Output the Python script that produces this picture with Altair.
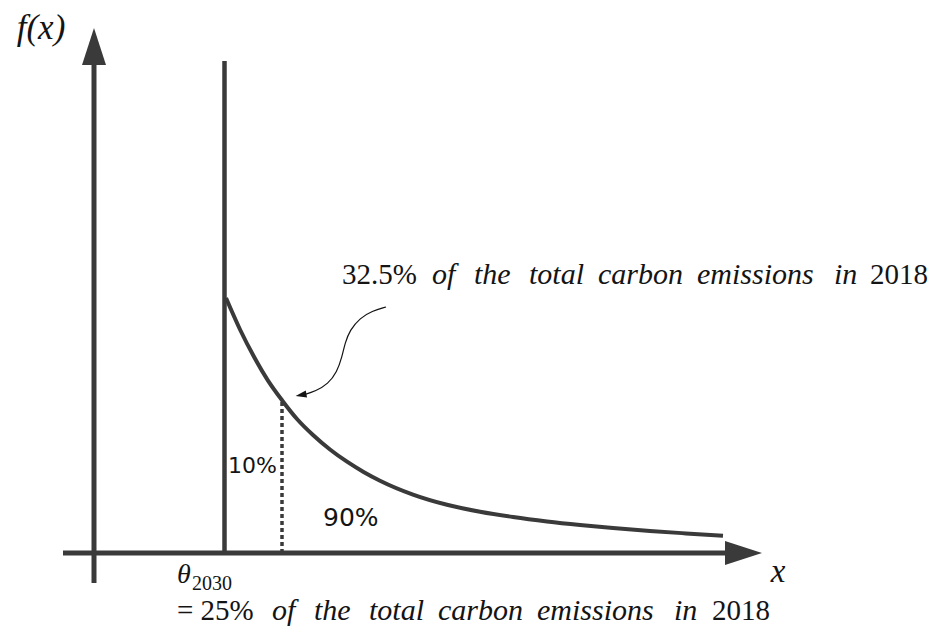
import altair as alt
import pandas as pd

# Schematic coordinate system: origin where the two axes cross (units ~ pixels)
X_DOMAIN = [-86, 834]
Y_DOMAIN = [-73, 545]

# Decreasing density curve f(x) starting at theta_2030
curve_x = [132, 146, 160, 174, 188, 203, 219, 236, 253, 270, 286, 319, 353, 386,
           419, 453, 486, 519, 556, 592, 629]
curve_y = [255, 223.5, 196.2, 172.4, 152.8, 134, 118, 103.5, 91.3, 80.8, 72.3, 58.4,
           48.2, 41.3, 36, 31.6, 28.1, 25.1, 22.1, 19.6, 17.2]

# Key positions
theta_x = 130.5          # theta_2030 (vertical line)
theta_top = 492
split_x = 188            # 10% / 90% split (dotted line)
split_y = 152.8

# Axes
y_axis_bottom, y_axis_top, y_tip = -30, 488, 525
x_axis_left, x_axis_right, x_tip = -31, 631, 668
head_half = 12

# Curved pointer from the label to the curve
ptr_x = [292, 278, 266, 256, 251, 248, 243, 234, 222, 209]
ptr_y = [246, 242, 235, 223, 210, 196, 181, 169, 162, 158]
ptr_head = (207, 158)

# Labels
words = ["of", "the", "total", "carbon", "emissions", "in"]
word_offsets = [0, 42, 97, 166, 265, 402]
top_line_x, top_line_y = 338, 269
bottom_line_x, bottom_line_y = 178, -67

upright_text = ["= 25%", "2018", "32.5%", "2018"]
upright_x = [83, 618, 248, 776]
upright_y = [-67, -67, 269, 269]

LINE = "#3a3a3a"
INK = "#141414"
SERIF = "Liberation Serif"


def X(field="x"):
    return alt.X(field, type="quantitative",
                 scale=alt.Scale(domain=X_DOMAIN, nice=False, zero=False), axis=None)


def Y(field="y"):
    return alt.Y(field, type="quantitative",
                 scale=alt.Scale(domain=Y_DOMAIN, nice=False, zero=False), axis=None)


# Axis lines
y_axis = alt.Chart(pd.DataFrame({"x": [0], "y": [y_axis_bottom], "y2": [y_axis_top]})).mark_rule(
    color=LINE, strokeWidth=5).encode(x=X(), y=Y(), y2="y2")
x_axis = alt.Chart(pd.DataFrame({"x": [x_axis_left], "x2": [x_axis_right], "y": [0]})).mark_rule(
    color=LINE, strokeWidth=5).encode(x=X(), x2="x2", y=Y())

# Arrow heads (filled triangles)
y_head = alt.Chart(pd.DataFrame({
    "x": [-head_half, 0, head_half],
    "y": [y_axis_top] * 3,
    "y2": [y_axis_top, y_tip, y_axis_top]})).mark_area(
    color=LINE, orient="vertical", opacity=1).encode(x=X(), y=Y(), y2="y2")
x_head = alt.Chart(pd.DataFrame({
    "y": [-head_half, 0, head_half],
    "x": [x_axis_right] * 3,
    "x2": [x_axis_right, x_tip, x_axis_right]})).mark_area(
    color=LINE, orient="horizontal", opacity=1).encode(y=Y(), x=X(), x2="x2")

# theta line and dotted split line
theta_line = alt.Chart(pd.DataFrame({"x": [theta_x], "y": [0], "y2": [theta_top]})).mark_rule(
    color=LINE, strokeWidth=4.5).encode(x=X(), y=Y(), y2="y2")
split_line = alt.Chart(pd.DataFrame({"x": [split_x], "y": [0], "y2": [split_y]})).mark_rule(
    color=LINE, strokeWidth=3.5, strokeDash=[4, 3]).encode(x=X(), y=Y(), y2="y2")

# Curve
curve = alt.Chart(pd.DataFrame({"x": curve_x, "y": curve_y, "o": range(len(curve_x))})).mark_line(
    color=LINE, strokeWidth=4, interpolate="monotone").encode(x=X(), y=Y(), order="o:Q")

# Pointer
pointer = alt.Chart(pd.DataFrame({"x": ptr_x, "y": ptr_y, "o": range(len(ptr_x))})).mark_line(
    color=INK, strokeWidth=1.2, interpolate="basis").encode(x=X(), y=Y(), order="o:Q")
pointer_head = alt.Chart(pd.DataFrame({"x": [ptr_head[0]], "y": [ptr_head[1]]})).mark_point(
    shape="M-1,0L1,-0.65L1,0.65Z", size=120, filled=True, color=INK, opacity=1, angle=350,
    strokeWidth=0).encode(x=X(), y=Y())

# Texts
italic_df = pd.DataFrame({
    "x": [top_line_x + o for o in word_offsets] + [bottom_line_x + o for o in word_offsets],
    "y": [top_line_y] * len(words) + [bottom_line_y] * len(words),
    "t": words + words,
})
it = alt.Chart(italic_df).mark_text(
    font=SERIF, fontStyle="italic", fontSize=30, align="left", baseline="alphabetic",
    color=INK).encode(x=X(), y=Y(), text="t:N")
up = alt.Chart(pd.DataFrame({"x": upright_x, "y": upright_y, "t": upright_text})).mark_text(
    font=SERIF, fontSize=29, align="left", baseline="alphabetic", color=INK).encode(
    x=X(), y=Y(), text="t:N")
theta_lbl = alt.Chart(pd.DataFrame({"x": [83], "y": [-30], "t": ["θ"]})).mark_text(
    font=SERIF, fontStyle="italic", fontSize=28, align="left", baseline="alphabetic",
    color=INK).encode(x=X(), y=Y(), text="t:N")
theta_sub = alt.Chart(pd.DataFrame({"x": [98], "y": [-37], "t": ["2030"]})).mark_text(
    font=SERIF, fontSize=20, align="left", baseline="alphabetic", color=INK).encode(
    x=X(), y=Y(), text="t:N")
fx_lbl = alt.Chart(pd.DataFrame({"x": [-53], "y": [525], "t": ["f(x)"]})).mark_text(
    font=SERIF, fontStyle="italic", fontSize=35, align="center", baseline="middle",
    color=INK).encode(x=X(), y=Y(), text="t:N")
x_lbl = alt.Chart(pd.DataFrame({"x": [684], "y": [-19], "t": ["x"]})).mark_text(
    font=SERIF, fontStyle="italic", fontSize=33, align="center", baseline="middle",
    color=INK).encode(x=X(), y=Y(), text="t:N")
pct10 = alt.Chart(pd.DataFrame({"x": [134], "y": [80], "t": ["10%"]})).mark_text(
    font="DejaVu Sans", fontSize=22, align="left", baseline="alphabetic", color=INK).encode(
    x=X(), y=Y(), text="t:N")
pct90 = alt.Chart(pd.DataFrame({"x": [229], "y": [27], "t": ["90%"]})).mark_text(
    font="DejaVu Sans", fontSize=25, align="left", baseline="alphabetic", color=INK).encode(
    x=X(), y=Y(), text="t:N")

chart = alt.layer(
    y_axis, x_axis, y_head, x_head, theta_line, split_line, curve, pointer, pointer_head,
    it, up, theta_lbl, theta_sub, fx_lbl, x_lbl, pct10, pct90
).properties(
    width=920, height=618, padding=0,
    autosize=alt.AutoSizeParams(type="none"),
    background="white"
).configure_view(stroke=None)

chart.save("out.html", embed_options={"renderer": "svg", "actions": False})
